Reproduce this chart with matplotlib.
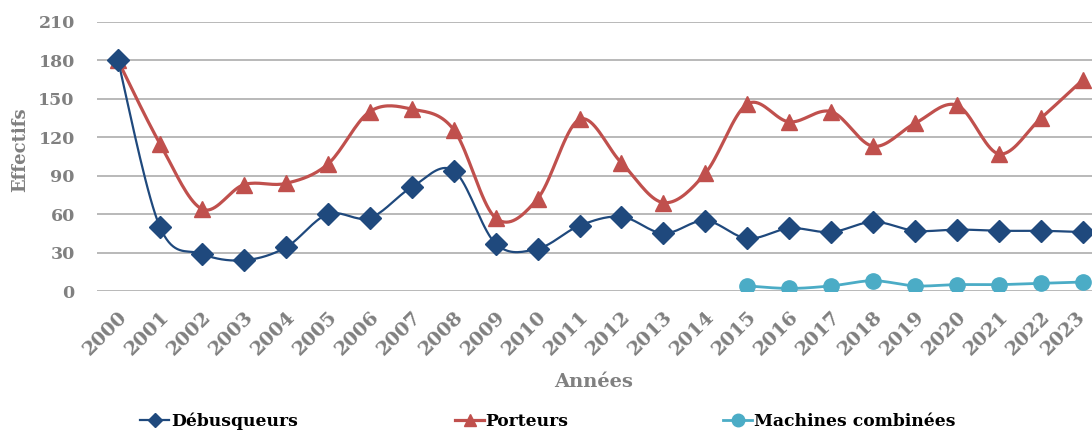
import matplotlib.pyplot as plt
import numpy as np
from matplotlib.lines import Line2D
from matplotlib.transforms import ScaledTranslation

years = [str(y) for y in range(2000, 2024)]
debusqueurs = [180, 50, 29, 24, 34, 60, 57, 81, 94, 37, 33, 51, 58, 45,
               55, 41, 49, 46, 54, 47, 48, 47, 47, 46]
porteurs = [180, 115, 64, 83, 84, 99, 140, 142, 126, 57, 72, 134, 100, 69,
            92, 146, 132, 140, 113, 131, 145, 107, 135, 165]
machines_years = years[15:]
machines = [4, 2, 4, 8, 4, 5, 5, 6, 7]

BLUE = '#1F497D'
RED = '#C0504D'
CYAN = '#4BACC6'
GREY = '#808080'
FONT = 'DejaVu Serif'


def smooth(x, y, n=20):
    """Excel-like smoothed line (Bezier with Catmull-Rom tangents)."""
    x = np.asarray(x, float)
    y = np.asarray(y, float)
    p = np.column_stack([x, y])
    out = [p[0]]
    t = np.linspace(0, 1, n)[1:, None]
    for i in range(len(p) - 1):
        p0 = p[i - 1] if i > 0 else p[i]
        p3 = p[i + 2] if i + 2 < len(p) else p[i + 1]
        c1 = p[i] + (p[i + 1] - p0) / 6
        c2 = p[i + 1] - (p3 - p[i]) / 6
        seg = ((1 - t) ** 3 * p[i] + 3 * (1 - t) ** 2 * t * c1
               + 3 * (1 - t) * t ** 2 * c2 + t ** 3 * p[i + 1])
        out.extend(seg)
    out = np.array(out)
    return out[:, 0], out[:, 1]


fig = plt.figure(figsize=(10.92, 4.30), dpi=100)
ax = fig.add_axes([97 / 1092, 1 - 291 / 430, (1104 - 97) / 1092,
                   (291 - 22) / 430])

xi = np.arange(len(years))
xm = np.arange(15, 24)

for yy in range(0, 211, 30):
    ax.axhline(yy, color='#B3B3B3', lw=1.3, zorder=0)

sx, sy = smooth(xi, porteurs)
ax.plot(sx, sy, color=RED, lw=2.3, zorder=2)
ax.plot(xi, porteurs, ls='none', marker='^', ms=11, color=RED, zorder=3)

sx, sy = smooth(xi, debusqueurs)
ax.plot(sx, sy, color=BLUE, lw=1.6, zorder=4)
ax.plot(xi, debusqueurs, ls='none', marker='D', ms=11.5, color=BLUE,
        zorder=5)

sx, sy = smooth(xm, machines)
ax.plot(sx, sy, color=CYAN, lw=2.0, zorder=6)
ax.plot(xm, machines, ls='none', marker='o', ms=11, color=CYAN, zorder=7)

ax.set_xlim(-0.5, 23.5)
ax.set_ylim(0, 210)
ax.set_yticks(range(0, 211, 30))
ax.set_xticks(xi)
ax.set_xticklabels(years, rotation=45, ha='right', va='top',
                   rotation_mode='anchor')
for s in ax.spines.values():
    s.set_visible(False)
ax.tick_params(length=0)
ax.tick_params(axis='y', pad=16)
ax.tick_params(axis='x', pad=12)
for lab in ax.get_xticklabels():
    lab.set_fontsize(14)
for lab in ax.get_yticklabels():
    lab.set_fontsize(12.5)
for lab in ax.get_xticklabels() + ax.get_yticklabels():
    lab.set_fontfamily(FONT)
    lab.set_fontweight('bold')
    lab.set_color(GREY)
# last label sits at the right edge of the picture: nudge it inside
last = ax.get_xticklabels()[-1]
last.set_transform(last.get_transform()
                   + ScaledTranslation(-5 / 72, 0, fig.dpi_scale_trans))

fig.text(20 / 1092, 1 - 150 / 430, 'Effectifs', rotation=90, ha='center',
         va='center', fontfamily=FONT, fontweight='bold', fontsize=13,
         color=GREY)
fig.text(594 / 1092, 1 - 382 / 430, 'Années', ha='center', va='center',
         fontfamily=FONT, fontweight='bold', fontsize=14, color=GREY)

entries = [
    (140, Line2D([], [], color=BLUE, lw=1.6, marker='D', ms=7),
     'Débusqueurs'),
    (455, Line2D([], [], color=RED, lw=2.3, marker='^', ms=9), 'Porteurs'),
    (723, Line2D([], [], color=CYAN, lw=2.0, marker='o', ms=9),
     'Machines combinées'),
]
for xpx, h, lab in entries:
    fig.legend([h], [lab], loc='center left',
               bbox_to_anchor=(xpx / 1092, 1 - 421 / 430),
               frameon=False, handlelength=1.7, handletextpad=0.1,
               borderpad=0, borderaxespad=0,
               prop={'family': FONT, 'weight': 'bold', 'size': 12.3})

fig.savefig('out.png', dpi=100)
